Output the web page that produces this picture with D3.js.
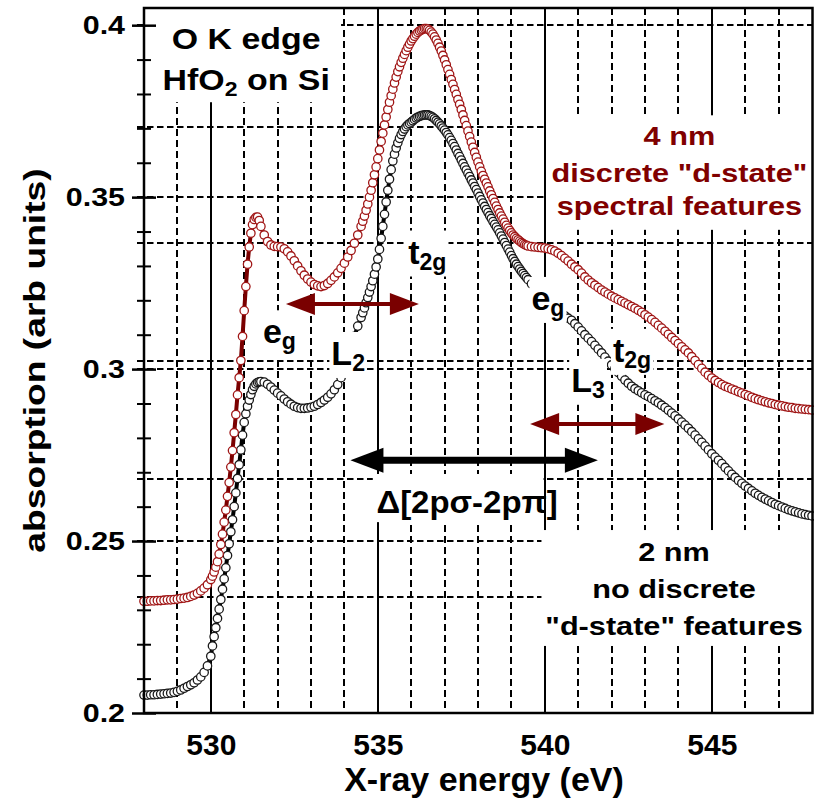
<!DOCTYPE html>
<html>
<head>
<meta charset="utf-8">
<script src="https://cdn.jsdelivr.net/npm/d3@7"></script>
<style>
  body { margin: 0; background: #fff; }
  text { font-family: "Liberation Sans", Arial, sans-serif; font-weight: bold; }
</style>
</head>
<body>
<script>
// photon energy (eV), finer steps across the edge and the main peak
var energy = [
  528,528.1,528.2,528.3,528.4,528.5,528.6,528.7,528.8,528.9,
  529,529.1,529.2,529.3,529.4,529.5,529.6,529.7,529.8,529.9,
  530,530.05,530.1,530.15,530.2,530.25,530.3,530.35,530.4,530.45,
  530.5,530.55,530.6,530.65,530.7,530.75,530.8,530.85,530.9,530.95,
  531,531.05,531.1,531.15,531.2,531.25,531.3,531.35,531.4,531.45,
  531.5,531.6,531.7,531.8,531.9,532,532.1,532.2,532.3,532.4,
  532.5,532.6,532.7,532.8,532.9,533,533.1,533.2,533.3,533.4,
  533.5,533.6,533.7,533.8,533.9,534,534.1,534.2,534.3,534.4,
  534.5,534.55,534.6,534.65,534.7,534.75,534.8,534.85,534.9,534.95,
  535,535.05,535.1,535.15,535.2,535.25,535.3,535.35,535.4,535.45,
  535.5,535.55,535.6,535.65,535.7,535.75,535.8,535.85,535.9,535.95,
  536,536.05,536.1,536.15,536.2,536.25,536.3,536.35,536.4,536.45,
  536.5,536.55,536.6,536.65,536.7,536.75,536.8,536.85,536.9,536.95,
  537,537.05,537.1,537.15,537.2,537.25,537.3,537.35,537.4,537.45,
  537.5,537.55,537.6,537.65,537.7,537.75,537.8,537.85,537.9,537.95,
  538,538.05,538.1,538.15,538.2,538.25,538.3,538.35,538.4,538.45,
  538.5,538.55,538.6,538.65,538.7,538.75,538.8,538.85,538.9,538.95,
  539,539.05,539.1,539.15,539.2,539.25,539.3,539.35,539.4,539.45,
  539.5,539.6,539.7,539.8,539.9,540,540.1,540.2,540.3,540.4,
  540.5,540.6,540.7,540.8,540.9,541,541.1,541.2,541.3,541.4,
  541.5,541.6,541.7,541.8,541.9,542,542.1,542.2,542.3,542.4,
  542.5,542.6,542.7,542.8,542.9,543,543.1,543.2,543.3,543.4,
  543.5,543.6,543.7,543.8,543.9,544,544.1,544.2,544.3,544.4,
  544.5,544.6,544.7,544.8,544.9,545,545.1,545.2,545.3,545.4,
  545.5,545.6,545.7,545.8,545.9,546,546.1,546.2,546.3,546.4,
  546.5,546.6,546.7,546.8,546.9,547,547.1,547.2,547.3,547.4,
  547.5,547.6,547.7,547.8,547.9,548
];

// 4 nm HfO2 film
var abs4nm = [
  0.2325,0.2325,0.2326,0.2326,0.2327,0.2327,0.2328,0.2329,0.2329,0.2330,
  0.2331,0.2333,0.2334,0.2336,0.2339,0.2343,0.2348,0.2355,0.2363,0.2373,
  0.2388,0.2398,0.2410,0.2424,0.2440,0.2462,0.2490,0.2520,0.2555,0.2590,
  0.2630,0.2670,0.2715,0.2763,0.2815,0.2868,0.2925,0.2975,0.3025,0.3095,
  0.3170,0.3240,0.3305,0.3355,0.3395,0.3420,0.3435,0.3441,0.3442,0.3432,
  0.3415,0.3390,0.3371,0.3361,0.3357,0.3356,0.3355,0.3350,0.3341,0.3329,
  0.3315,0.3300,0.3286,0.3273,0.3262,0.3253,0.3246,0.3242,0.3240,0.3243,
  0.3249,0.3258,0.3268,0.3280,0.3293,0.3308,0.3326,0.3345,0.3366,0.3390,
  0.3415,0.3430,0.3445,0.3462,0.3480,0.3500,0.3520,0.3542,0.3565,0.3588,
  0.3612,0.3637,0.3662,0.3686,0.3710,0.3733,0.3755,0.3776,0.3795,0.3814,
  0.3832,0.3849,0.3865,0.3879,0.3892,0.3904,0.3915,0.3926,0.3936,0.3945,
  0.3954,0.3961,0.3968,0.3974,0.3979,0.3983,0.3986,0.3988,0.3990,0.3990,
  0.3989,0.3985,0.3980,0.3974,0.3966,0.3957,0.3947,0.3936,0.3925,0.3912,
  0.3899,0.3885,0.3871,0.3857,0.3842,0.3828,0.3813,0.3799,0.3784,0.3770,
  0.3755,0.3739,0.3723,0.3708,0.3692,0.3676,0.3660,0.3645,0.3630,0.3616,
  0.3602,0.3588,0.3575,0.3563,0.3552,0.3541,0.3530,0.3518,0.3507,0.3496,
  0.3485,0.3474,0.3464,0.3454,0.3445,0.3436,0.3427,0.3418,0.3410,0.3403,
  0.3396,0.3390,0.3385,0.3380,0.3376,0.3372,0.3368,0.3365,0.3362,0.3360,
  0.3358,0.3356,0.3355,0.3354,0.3353,0.3352,0.3350,0.3347,0.3343,0.3337,
  0.3330,0.3322,0.3314,0.3305,0.3297,0.3289,0.3279,0.3268,0.3259,0.3251,
  0.3244,0.3237,0.3230,0.3224,0.3218,0.3212,0.3207,0.3202,0.3197,0.3192,
  0.3187,0.3182,0.3177,0.3171,0.3165,0.3158,0.3151,0.3144,0.3136,0.3127,
  0.3119,0.3110,0.3101,0.3092,0.3083,0.3074,0.3065,0.3056,0.3047,0.3036,
  0.3025,0.3013,0.3002,0.2991,0.2982,0.2974,0.2967,0.2961,0.2955,0.2950,
  0.2946,0.2942,0.2938,0.2934,0.2930,0.2926,0.2922,0.2918,0.2914,0.2911,
  0.2908,0.2905,0.2902,0.2900,0.2897,0.2895,0.2893,0.2891,0.2889,0.2888,
  0.2886,0.2885,0.2884,0.2883,0.2882,0.2881
];

// 2 nm HfO2 film
var abs2nm = [
  0.2052,0.2052,0.2053,0.2053,0.2054,0.2055,0.2056,0.2057,0.2058,0.2060,
  0.2063,0.2067,0.2072,0.2077,0.2082,0.2088,0.2096,0.2105,0.2118,0.2137,
  0.2165,0.2195,0.2222,0.2248,0.2275,0.2302,0.2330,0.2360,0.2390,0.2422,
  0.2458,0.2492,0.2527,0.2562,0.2600,0.2640,0.2682,0.2722,0.2765,0.2808,
  0.2845,0.2870,0.2892,0.2910,0.2926,0.2940,0.2950,0.2957,0.2961,0.2963,
  0.2964,0.2962,0.2956,0.2948,0.2939,0.2930,0.2922,0.2913,0.2905,0.2898,
  0.2892,0.2888,0.2886,0.2886,0.2887,0.2889,0.2892,0.2897,0.2903,0.2910,
  0.2918,0.2928,0.2940,0.2955,0.2975,0.3000,0.3030,0.3062,0.3095,0.3125,
  0.3150,0.3164,0.3178,0.3193,0.3208,0.3224,0.3240,0.3257,0.3276,0.3297,
  0.3320,0.3348,0.3380,0.3415,0.3450,0.3486,0.3520,0.3552,0.3580,0.3605,
  0.3625,0.3643,0.3658,0.3671,0.3682,0.3691,0.3698,0.3705,0.3710,0.3714,
  0.3718,0.3722,0.3726,0.3730,0.3733,0.3735,0.3737,0.3738,0.3739,0.3739,
  0.3739,0.3737,0.3735,0.3732,0.3728,0.3723,0.3718,0.3713,0.3707,0.3701,
  0.3695,0.3688,0.3681,0.3673,0.3665,0.3656,0.3647,0.3637,0.3627,0.3618,
  0.3608,0.3598,0.3588,0.3579,0.3569,0.3560,0.3550,0.3541,0.3531,0.3522,
  0.3512,0.3502,0.3492,0.3483,0.3473,0.3464,0.3455,0.3446,0.3438,0.3429,
  0.3421,0.3413,0.3405,0.3396,0.3387,0.3378,0.3368,0.3359,0.3349,0.3340,
  0.3330,0.3321,0.3313,0.3305,0.3298,0.3291,0.3284,0.3278,0.3272,0.3266,
  0.3260,0.3248,0.3236,0.3225,0.3215,0.3205,0.3196,0.3188,0.3179,0.3170,
  0.3162,0.3155,0.3148,0.3142,0.3132,0.3122,0.3111,0.3100,0.3090,0.3080,
  0.3069,0.3058,0.3047,0.3035,0.3023,0.3012,0.3001,0.2990,0.2979,0.2968,
  0.2959,0.2950,0.2943,0.2937,0.2931,0.2925,0.2920,0.2914,0.2908,0.2902,
  0.2895,0.2888,0.2880,0.2872,0.2864,0.2855,0.2846,0.2837,0.2828,0.2818,
  0.2808,0.2797,0.2787,0.2776,0.2765,0.2754,0.2744,0.2735,0.2725,0.2714,
  0.2704,0.2694,0.2685,0.2676,0.2668,0.2660,0.2653,0.2646,0.2639,0.2633,
  0.2627,0.2622,0.2617,0.2612,0.2607,0.2603,0.2599,0.2595,0.2591,0.2588,
  0.2585,0.2582,0.2579,0.2577,0.2575,0.2573
];

var xTicks = [530, 535, 540, 545];
var yTicks = [0.2, 0.25, 0.3, 0.35, 0.4];
// second (offset) set of dashed horizontal grid lines in the original figure
var yGrid2 = [0.2338, 0.2680, 0.3024, 0.3366, 0.3705];

var width = 814, height = 802;
var x = d3.scaleLinear().domain([528, 548]).range([144, 812]);
var y = d3.scaleLinear().domain([0.2, 0.405]).range([713, 8]);

var svg = d3.select("body").append("svg")
    .attr("width", width)
    .attr("height", height);

// ---- grid ----
var grid = svg.append("g");
var xMinor = x.ticks(20).filter(function(d) { return d > 528 && d < 548; });
grid.selectAll(".vgrid")
    .data(xMinor)
  .enter().append("line")
    .attr("x1", function(d) { return Math.round(x(d)); })
    .attr("x2", function(d) { return Math.round(x(d)); })
    .attr("y1", y(0.405))
    .attr("y2", y(0.2))
    .attr("stroke", "#000")
    .attr("stroke-width", 2)
    .attr("stroke-dasharray", function(d) { return d % 5 === 0 ? null : "7,4"; });

grid.selectAll(".hgrid")
    .data(yTicks.slice(1).concat(yGrid2))
  .enter().append("line")
    .attr("x1", x(528) - 7)
    .attr("x2", x(548))
    .attr("y1", function(d) { return Math.round(y(d)); })
    .attr("y2", function(d) { return Math.round(y(d)); })
    .attr("stroke", "#000")
    .attr("stroke-width", 2)
    .attr("stroke-dasharray", "6.5,3.5");

// ---- spectra ----
var series = [
  {name: "2 nm", values: abs2nm, line: "#000", mark: "#1a1a1a"},
  {name: "4 nm", values: abs4nm, line: "#7a0000", mark: "#a01616"}
];

var line = d3.line()
    .x(function(d, i) { return x(energy[i]); })
    .y(function(d) { return y(d); });

series.forEach(function(s) {
  var g = svg.append("g").attr("class", "series");
  g.append("path")
      .datum(s.values)
      .attr("d", line)
      .attr("fill", "none")
      .attr("stroke", s.line)
      .attr("stroke-width", 4);
  g.selectAll("circle")
      .data(s.values)
    .enter().append("circle")
      .attr("cx", function(d, i) { return x(energy[i]); })
      .attr("cy", function(d) { return y(d); })
      .attr("r", 4.2)
      .attr("fill", "#fff")
      .attr("stroke", s.mark)
      .attr("stroke-width", 1.3);
});

// ---- annotations (white boxes + text) ----
var boxes = svg.append("g");
var notes = svg.append("g");

function addText(parts, px, py, size, anchor, color, sx) {
  var t = notes.append("text")
      .attr("transform", "translate(" + px + "," + py + ") scale(" + sx + ",1)")
      .attr("text-anchor", anchor)
      .attr("font-size", size)
      .attr("fill", color);
  var low = false;
  parts.forEach(function(p) {
    var ts = t.append("tspan").text(p.t);
    if (p.sub) {
      ts.attr("font-size", size * 0.68).attr("dy", low ? 0 : 6);
      low = true;
    } else {
      ts.attr("dy", low ? -6 : 0);
      low = false;
    }
  });
  return t;
}

function boxAround(t, px, py, sx, pad) {
  var bb = t.node().getBBox();
  boxes.append("rect")
      .attr("x", px + bb.x * sx - pad)
      .attr("y", py + bb.y - pad)
      .attr("width", bb.width * sx + 2 * pad)
      .attr("height", bb.height + 2 * pad)
      .attr("fill", "#fff");
}

function panel(c) {
  boxes.append("rect")
      .attr("x", x(c[0]))
      .attr("y", y(c[1]))
      .attr("width", x(c[2]) - x(c[0]))
      .attr("height", y(c[3]) - y(c[1]))
      .attr("fill", "#fff");
}

// big text blocks with their white panels (energy/absorption corners)
var blocks = [
  {lines: [[{t: "O K edge"}], [{t: "HfO"}, {t: "2", sub: true}, {t: " on Si"}]],
   e: 531.06, v: [0.3932, 0.3811], size: 30, sx: 1.13, color: "#000",
   panel: [528, 0.405, 533.9, 0.3776]},
  {lines: [[{t: "4 nm"}], [{t: "discrete \"d-state\""}], [{t: "spectral features"}]],
   e: 544.03, v: [0.3652, 0.3545, 0.3448], size: 26, sx: 1.18, color: "#800000",
   panel: [540.05, 0.3738, 548, 0.3405]},
  {lines: [[{t: "2 nm"}], [{t: "no discrete"}], [{t: "\"d-state\" features"}]],
   e: 543.87, v: [0.2443, 0.2334, 0.2227], size: 26, sx: 1.18, color: "#000",
   panel: [539.9, 0.2532, 548, 0.2195]}
];

blocks.forEach(function(b) {
  panel(b.panel);
  b.lines.forEach(function(parts, i) {
    addText(parts, x(b.e), y(b.v[i]), b.size, "middle", b.color, b.sx);
  });
});

// band labels
var labels = [
  {parts: [{t: "e"}, {t: "g", sub: true}], e: 531.56, v: 0.3075},
  {parts: [{t: "L"}, {t: "2", sub: true}], e: 533.61, v: 0.3012},
  {parts: [{t: "t"}, {t: "2g", sub: true}], e: 535.91, v: 0.3307},
  {parts: [{t: "e"}, {t: "g", sub: true}], e: 539.6, v: 0.3172},
  {parts: [{t: "t"}, {t: "2g", sub: true}], e: 542.04, v: 0.3021},
  {parts: [{t: "L"}, {t: "3", sub: true}], e: 540.79, v: 0.2934}
];
labels.forEach(function(l) {
  var px = x(l.e), py = y(l.v);
  var t = addText(l.parts, px, py, 34, "start", "#000", 1);
  boxAround(t, px, py, 1, 2);
});

panel([534.85, 0.2695, 539.95, 0.2555]);
addText([{t: "\u0394[2p\u03c3-2p\u03c0]"}], x(534.96), y(0.2581), 32, "start", "#000", 1.03);

// ---- arrows ----
var arrows = [
  {e1: 532.25, e2: 536.23, v: 0.3189, color: "#7a0000", w: 4, hl: 29, hw: 11},
  {e1: 539.56, e2: 543.58, v: 0.2840, color: "#7a0000", w: 4, hl: 29, hw: 11},
  {e1: 534.18, e2: 541.59, v: 0.2735, color: "#000", w: 7, hl: 33, hw: 12.5}
];
var ag = svg.append("g");
arrows.forEach(function(a) {
  var x1 = x(a.e1), x2 = x(a.e2), yy = y(a.v);
  ag.append("line")
      .attr("x1", x1 + a.hl - 2).attr("x2", x2 - a.hl + 2)
      .attr("y1", yy).attr("y2", yy)
      .attr("stroke", a.color).attr("stroke-width", a.w);
  ag.append("path")
      .attr("d", "M" + x1 + "," + yy + "L" + (x1 + a.hl) + "," + (yy - a.hw) +
                 "L" + (x1 + a.hl) + "," + (yy + a.hw) + "Z")
      .attr("fill", a.color);
  ag.append("path")
      .attr("d", "M" + x2 + "," + yy + "L" + (x2 - a.hl) + "," + (yy - a.hw) +
                 "L" + (x2 - a.hl) + "," + (yy + a.hw) + "Z")
      .attr("fill", a.color);
});

// ---- axes ----
var yMinor = y.ticks(20).filter(function(d) {
  return yTicks.indexOf(+d.toFixed(2)) < 0 && d < 0.4001;
});

function plain(g) {
  g.select(".domain").remove();
  g.selectAll("line").attr("stroke", "#000");
}

svg.append("g").attr("transform", "translate(" + x(528) + ",0)")
    .call(d3.axisLeft(y).tickValues(yMinor).tickSize(7).tickFormat(""))
    .call(plain).selectAll("line").attr("stroke-width", 2);
svg.append("g").attr("transform", "translate(" + x(528) + ",0)")
    .call(d3.axisRight(y).tickValues(yMinor).tickSize(7).tickFormat(""))
    .call(plain).selectAll("line").attr("stroke-width", 2);
svg.append("g").attr("transform", "translate(" + x(528) + ",0)")
    .call(d3.axisRight(y).tickValues(yTicks).tickSize(12).tickFormat(""))
    .call(plain).selectAll("line").attr("stroke-width", 2.5);

var yAxis = svg.append("g").attr("transform", "translate(" + x(528) + ",0)")
    .call(d3.axisLeft(y).tickValues(yTicks).tickSize(12).tickFormat(d3.format("")))
    .call(plain);
yAxis.selectAll("line").attr("stroke-width", 2.5);
yAxis.selectAll("text")
    .attr("x", 0).attr("dy", null)
    .attr("transform", "translate(-19,8.5) scale(1.17,1)")
    .attr("font-size", 26)
    .attr("fill", "#000")
    .attr("font-family", null);

var xAxis = svg.append("g").attr("transform", "translate(0," + y(0.2) + ")")
    .call(d3.axisBottom(x).tickValues(xTicks).tickSize(0).tickFormat(d3.format("")))
    .call(plain);
xAxis.selectAll("text")
    .attr("y", 42).attr("dy", null)
    .attr("font-size", 30)
    .attr("fill", "#000")
    .attr("font-family", null);

// frame
svg.append("rect")
    .attr("x", x(528)).attr("y", y(0.405))
    .attr("width", x(548) - x(528) + 0.5)
    .attr("height", y(0.2) - y(0.405))
    .attr("fill", "none")
    .attr("stroke", "#000")
    .attr("stroke-width", 2.5);

// axis titles
svg.append("text")
    .attr("x", 484).attr("y", 791)
    .attr("text-anchor", "middle")
    .attr("font-size", 34)
    .text("X-ray energy (eV)");

svg.append("text")
    .attr("transform", "translate(45," + ((y(0.2) + y(0.405)) / 2) + ") rotate(-90) scale(1.24,1)")
    .attr("text-anchor", "middle")
    .attr("font-size", 30)
    .text("absorption (arb units)");
</script>
</body>
</html>
